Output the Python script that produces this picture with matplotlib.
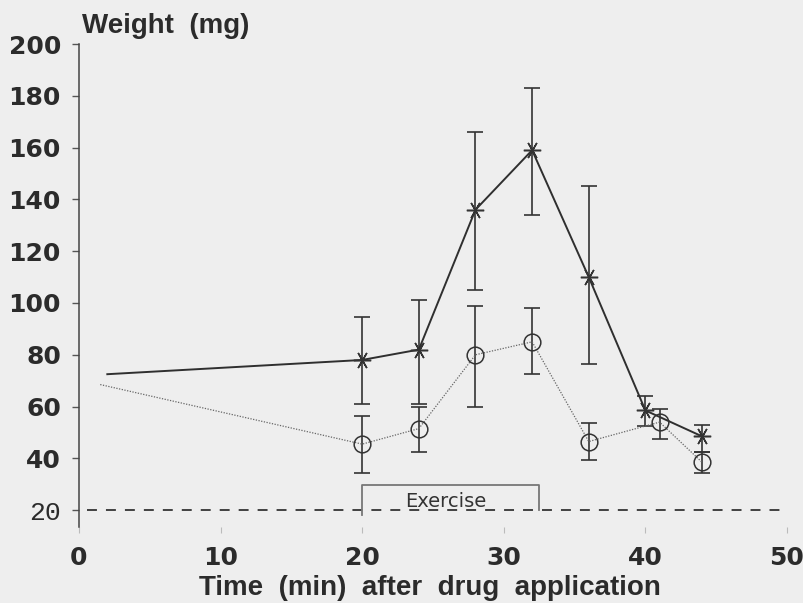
import matplotlib
matplotlib.use("Agg")
import matplotlib.pyplot as plt

# ---- data ----
star_x = [2, 20, 24, 28, 32, 36, 40, 44]
star_y = [72.5, 78, 82, 136, 159, 110, 58.5, 48.5]
star_lo = [None, 61, 61, 105, 134, 76.5, 52.5, 42.5]
star_hi = [None, 94.5, 101, 166, 183, 145, 64, 53]

circ_x = [1.5, 20, 24, 28, 32, 36, 41, 44]
circ_y = [68.5, 45.5, 51.5, 80, 85, 46.5, 54, 38.5]
circ_lo = [None, 34.5, 42.5, 60, 72.5, 39.5, 47.5, 34.5]
circ_hi = [None, 56.5, 60, 99, 98, 53.5, 59, 42.5]

exercise_start, exercise_end, exercise_top = 20, 32.5, 29.6

x_ticks = [0, 10, 20, 30, 40, 50]
y_ticks = [20, 40, 60, 80, 100, 120, 140, 160, 180, 200]

BG = "#eeeeee"
INK = "#2b2b2b"
LABEL_FONT = ["Liberation Sans", "DejaVu Sans"]
TICK_FONT = ["DejaVu Sans"]

fig = plt.figure(figsize=(8.04, 6.03), dpi=100, facecolor=BG)
ax = fig.add_axes([79 / 804, 1 - 527 / 603, (787 - 79) / 804, (527 - 44) / 603])
ax.set_facecolor(BG)
ax.set_xlim(0, 50)
ax.set_ylim(13.5, 200)

for s in ["top", "right", "bottom"]:
    ax.spines[s].set_visible(False)
ax.spines["left"].set_color("#444444")
ax.spines["left"].set_linewidth(1.1)

# baseline dashed line at 20
ax.plot([0.6, 50], [20, 20], color="#333333", lw=1.3, ls=(0, (5.5, 5.0)), zorder=1)

# exercise box
ax.plot([exercise_start, exercise_start, exercise_end, exercise_end],
        [18.0, exercise_top, exercise_top, 20], color="#777777", lw=1.3, zorder=1)
ax.text(23.0, 21.4, "Exercise", fontsize=14, color="#333333", va="baseline",
        ha="left", family=TICK_FONT)

# error bars
def draw_err(xs, ys, lo, hi, color):
    ex, ey, el, eh = [], [], [], []
    for x, y, l, h in zip(xs, ys, lo, hi):
        if l is None:
            continue
        ex.append(x); ey.append(y); el.append(y - l); eh.append(h - y)
    ax.errorbar(ex, ey, yerr=[el, eh], fmt="none", ecolor=color,
                elinewidth=1.2, capsize=5.5, capthick=1.2, zorder=2)

draw_err(star_x, star_y, star_lo, star_hi, "#333333")
draw_err(circ_x, circ_y, circ_lo, circ_hi, "#333333")

# series lines
ax.plot(star_x, star_y, color="#2f2f2f", lw=1.4, zorder=3)
ax.plot(star_x[1:], star_y[1:], ls="none", marker=(6, 2, 90), ms=12.5,
        mec="#333333", mew=1.1, zorder=4)
ax.plot(circ_x, circ_y, color="#666666", lw=0.9, ls=(0, (1, 1.2)), zorder=3)
ax.plot(circ_x[1:], circ_y[1:], ls="none", marker="o", ms=12,
        mfc="none", mec="#333333", mew=1.1, zorder=4)

# ticks
ax.set_yticks(y_ticks)
ax.set_yticklabels([str(v) for v in y_ticks])
ax.set_xticks(x_ticks)
ax.set_xticklabels([str(v) for v in x_ticks])
ax.tick_params(axis="y", length=5, width=1.0, color="#555555", pad=8,
               labelsize=18, labelcolor=INK)
ax.tick_params(axis="x", length=4, width=0.8, color="#bbbbbb", pad=10,
               labelsize=18, labelcolor=INK)
for lab in ax.get_yticklabels() + ax.get_xticklabels():
    lab.set_family(TICK_FONT)
    lab.set_weight("bold")
ax.get_yticklabels()[0].set_family(["Liberation Mono", "DejaVu Sans Mono"])
ax.get_yticklabels()[0].set_weight("normal")
ax.get_yticklabels()[0].set_fontsize(19)

fig.text(82 / 804, 1 - 26 / 603, "Weight  (mg)", fontsize=20, weight="bold",
         color=INK, ha="left", va="center", family=LABEL_FONT)
fig.text(430 / 804, 1 - 588 / 603, "Time  (min)  after  drug  application",
         fontsize=20, weight="bold", color=INK, ha="center", va="center",
         family=LABEL_FONT)

fig.savefig("out.png", dpi=100, facecolor=BG)
